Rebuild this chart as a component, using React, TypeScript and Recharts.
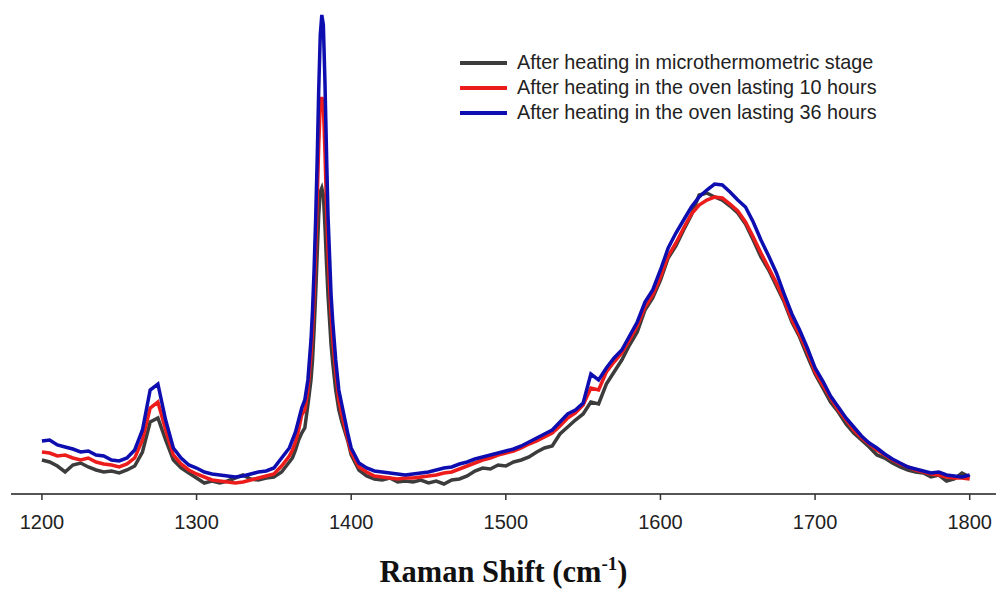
import React from 'react';
import { LineChart, Line, XAxis, YAxis } from 'recharts';

// Raman shift (cm-1)
const shifts = [
  1200, 1205, 1210, 1215, 1220, 1225, 1230, 1235, 1240, 1245,
  1250, 1255, 1260, 1265, 1270, 1275, 1280, 1285, 1290, 1295,
  1300, 1305, 1310, 1315, 1320, 1325, 1330, 1335, 1340, 1345,
  1350, 1355,
  1360, 1362, 1364, 1366, 1368, 1370, 1372, 1374,
  1375, 1376, 1377, 1378, 1379, 1380, 1381, 1382, 1383, 1384, 1385, 1386, 1387, 1388,
  1390, 1392, 1394, 1396, 1398, 1400,
  1405, 1410, 1415, 1420, 1425, 1430, 1435, 1440, 1445, 1450,
  1455, 1460, 1465, 1470, 1475, 1480, 1485, 1490, 1495, 1500,
  1505, 1510, 1515, 1520, 1525, 1530, 1535, 1540, 1545, 1550,
  1555, 1560, 1565, 1570, 1575, 1580, 1585, 1590, 1595, 1600,
  1605, 1610, 1615, 1620, 1625, 1630, 1635, 1640, 1645, 1650,
  1655, 1660, 1665, 1670, 1675, 1680, 1685, 1690, 1695, 1700,
  1705, 1710, 1715, 1720, 1725, 1730, 1735, 1740, 1745, 1750,
  1755, 1760, 1765, 1770, 1775, 1780, 1785, 1790, 1795, 1800,
];

// after heating in microthermometric stage
const stage = [
  34, 32, 28, 22, 29, 31, 27, 24, 22, 23,
  21, 24, 28, 42, 72, 76, 54, 34, 26, 21,
  16, 11, 13, 11, 13, 16, 19, 15, 14, 16,
  17, 22,
  32, 36, 44, 54, 61, 66, 89, 114,
  134, 164, 199, 239, 279, 302, 306, 299, 269, 232, 199, 174, 149, 132,
  104, 84, 72, 62, 52, 39,
  24, 18, 15, 14, 16, 12, 13, 12, 14, 11,
  13, 10, 14, 15, 18, 23, 26, 25, 29, 28,
  32, 34, 37, 42, 46, 48, 60, 67, 74, 80,
  92, 90, 110, 122, 134, 149, 162, 184, 196, 214,
  236, 248, 264, 279, 299, 301, 297, 294, 288, 281,
  270, 254, 237, 224, 208, 192, 172, 157, 138, 120,
  106, 92, 82, 70, 61, 54, 47, 39, 36, 31,
  27, 24, 22, 21, 17, 19, 13, 15, 21, 17,
];

// oven, 10 hours
const oven10 = [
  42, 41, 38, 39, 36, 34, 36, 32, 30, 29,
  27, 30, 36, 54, 86, 92, 64, 39, 30, 24,
  20, 17, 14, 13, 12, 11, 12, 14, 16, 18,
  20, 28,
  38, 44, 52, 64, 79, 84, 104, 139,
  164, 199, 244, 294, 349, 389, 397, 389, 344, 289, 244, 209, 179, 156,
  122, 94, 79, 66, 54, 42,
  27, 22, 18, 17, 16, 15, 16, 16, 17, 18,
  19, 21, 22, 25, 28, 31, 34, 36, 39, 41,
  43, 46, 50, 53, 57, 61, 68, 76, 81, 89,
  106, 104, 122, 132, 141, 154, 168, 187, 199, 217,
  238, 251, 266, 280, 289, 294, 297, 296, 290, 283,
  272, 257, 241, 226, 211, 194, 174, 159, 142, 122,
  109, 96, 84, 74, 64, 56, 50, 44, 39, 34,
  30, 27, 24, 22, 20, 19, 17, 16, 16, 15,
];

// oven, 36 hours
const oven36 = [
  53, 54, 49, 47, 45, 42, 43, 39, 38, 34,
  33, 36, 44, 64, 104, 110, 74, 46, 36, 29,
  26, 22, 20, 19, 18, 17, 18, 20, 22, 23,
  26, 36,
  46, 54, 62, 74, 86, 94, 114, 154,
  184, 224, 274, 334, 404, 459, 479, 469, 414, 344, 279, 239, 199, 174,
  134, 104, 89, 74, 59, 46,
  31, 26, 23, 22, 21, 20, 19, 20, 21, 22,
  24, 26, 27, 30, 32, 35, 37, 39, 41, 43,
  45, 48, 52, 56, 60, 64, 72, 80, 84, 91,
  120, 114, 126, 136, 144, 158, 172, 192, 204, 224,
  246, 261, 274, 287, 297, 304, 310, 309, 302, 294,
  287, 272, 254, 238, 221, 200, 180, 164, 146, 126,
  113, 98, 87, 76, 67, 58, 51, 46, 40, 35,
  31, 27, 25, 23, 21, 22, 19, 18, 17, 19,
];

const xTicks = [1200, 1300, 1400, 1500, 1600, 1700, 1800];

const series = [
  { key: 'stage', name: 'After heating in microthermometric stage', color: '#3c3c3c' },
  { key: 'oven10', name: 'After heating in the oven lasting 10 hours', color: '#ec1c1c' },
  { key: 'oven36', name: 'After heating in the oven lasting 36 hours', color: '#0d0db0' },
];

const data = shifts.map((s, i) => ({
  shift: s,
  stage: stage[i],
  oven10: oven10[i],
  oven36: oven36[i],
}));

function AxisTitle(props: any) {
  const vb = props.viewBox || { x: 11, y: 494, width: 985 };
  return (
    <text
      x={vb.x + vb.width / 2}
      y={vb.y + 88}
      textAnchor="middle"
      fontFamily="'Liberation Serif', 'Times New Roman', serif"
      fontWeight="bold"
      fontSize={30.5}
      fill="#111"
    >
      Raman Shift (cm
      <tspan dy={-12} fontSize={19}>-1</tspan>
      <tspan dy={12}>)</tspan>
    </text>
  );
}

// legend drawn on top of the chart, not part of the layout
function SeriesLegend() {
  return (
    <div
      style={{
        position: 'absolute',
        left: 460,
        top: 50,
        fontFamily: "'Liberation Sans', Arial, sans-serif",
        fontSize: 19.8,
        color: '#222',
      }}
    >
      {series.map((s) => (
        <div key={s.key} style={{ display: 'flex', alignItems: 'center', height: 25 }}>
          <span style={{ display: 'inline-block', width: 47, height: 4, background: s.color, marginRight: 10 }} />
          <span style={{ whiteSpace: 'nowrap' }}>{s.name}</span>
        </div>
      ))}
    </div>
  );
}

export default function App() {
  return (
    <div style={{ position: 'absolute', left: 0, top: 0, width: 996, height: 589, background: '#fff' }}>
      <LineChart width={996} height={589} data={data} margin={{ top: 14, right: 0, left: 11, bottom: 35 }}>
        <XAxis
          dataKey="shift"
          type="number"
          domain={[1180, 1817]}
          ticks={xTicks}
          height={60}
          tickSize={6}
          tickMargin={15}
          axisLine={{ stroke: '#555', strokeWidth: 2 }}
          tickLine={{ stroke: '#333', strokeWidth: 1.5 }}
          tick={{ fill: '#222', fontSize: 20, fontFamily: "'Liberation Sans', Arial, sans-serif" }}
          label={<AxisTitle />}
        />
        <YAxis hide domain={[0, 480]} />
        {series.map((s) => (
          <Line
            key={s.key}
            type="linear"
            dataKey={s.key}
            name={s.name}
            stroke={s.color}
            strokeWidth={3.5}
            dot={false}
            isAnimationActive={false}
          />
        ))}
      </LineChart>
      <SeriesLegend />
    </div>
  );
}
